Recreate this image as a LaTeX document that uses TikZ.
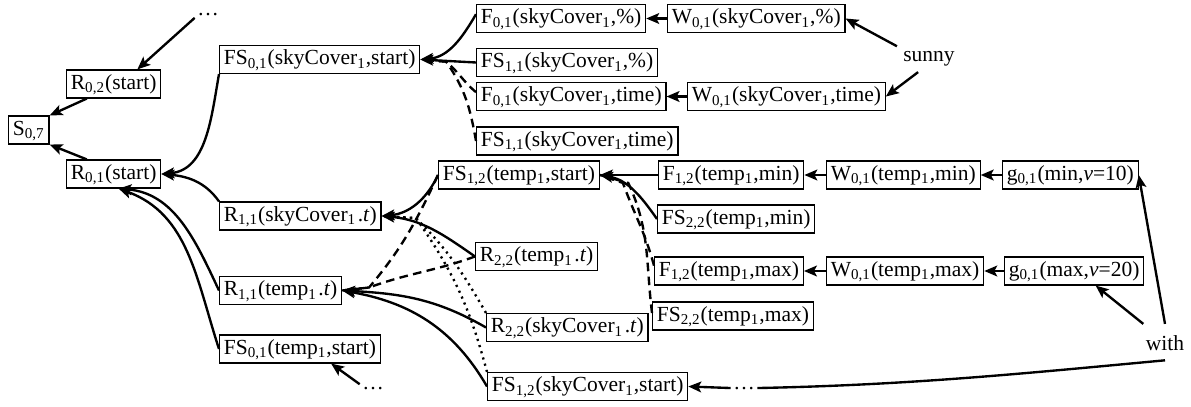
\documentclass[tikz,border=0pt]{standalone}
\usepackage{fontspec}
\setmainfont{Liberation Serif}
\usetikzlibrary{arrows.meta}
\newcommand{\sbs}[1]{\textsubscript{#1}}
\begin{document}
\begin{tikzpicture}[x=0.4651pt,y=-0.4651pt,
  box/.style={draw, line width=0.55pt, inner xsep=2pt, inner ysep=1.5pt,
    text height=7.5pt, text depth=2.5pt, anchor=west},
  lbl/.style={inner sep=1pt, anchor=base},
  ln/.style={line width=1.1pt},
  arr/.style={ln, -{Stealth[length=6pt,width=5pt,inset=1.3pt]}},
  dsh/.style={ln, dash pattern=on 4pt off 2.5pt},
  dtt/.style={ln, dash pattern=on 1pt off 2pt},
]
\useasboundingbox (0,0) rectangle (1191,407);

% nodes
\node[box] (S07) at (8,130) {S\sbs{0,7}};
\node[box] (R02) at (66,84) {R\sbs{0,2}(start)};
\node[box] (R01) at (66,174) {R\sbs{0,1}(start)};
\node[box] (FSsky) at (219,59.5) {FS\sbs{0,1}(skyCover\sbs{1},start)};
\node[box] (R11s) at (219,216) {R\sbs{1,1}(skyCover\sbs{1}\kern0.7pt.\textit{t})};
\node[box] (R11t) at (219,290.5) {R\sbs{1,1}(temp\sbs{1}\kern0.7pt.\textit{t})};
\node[box] (FSt0) at (219,349) {FS\sbs{0,1}(temp\sbs{1},start)};
\node[box] (F01p) at (476,18.5) {F\sbs{0,1}(skyCover\sbs{1},\%)};
\node[box] (W01p) at (667,18.5) {W\sbs{0,1}(skyCover\sbs{1},\%)};
\node[box] (FS11p) at (476,62.5) {FS\sbs{1,1}(skyCover\sbs{1},\%)};
\node[box] (F01ti) at (476,96.5) {F\sbs{0,1}(skyCover\sbs{1},time)};
\node[box] (W01ti) at (687,96.5) {W\sbs{0,1}(skyCover\sbs{1},time)};
\node[box] (FS11ti) at (476,141) {FS\sbs{1,1}(skyCover\sbs{1},time)};
\node[box] (FS12t) at (438,175) {FS\sbs{1,2}(temp\sbs{1},start)};
\node[box] (R22t) at (475,256.5) {R\sbs{2,2}(temp\sbs{1}\kern0.7pt.\textit{t})};
\node[box] (R22s) at (486,327.5) {R\sbs{2,2}(skyCover\sbs{1}\kern0.7pt.\textit{t})};
\node[box] (FS12s) at (487,386.5) {FS\sbs{1,2}(skyCover\sbs{1},start)};
\node[box] (F12mn) at (658,175) {F\sbs{1,2}(temp\sbs{1},min)};
\node[box] (FS22mn) at (657,219) {FS\sbs{2,2}(temp\sbs{1},min)};
\node[box] (F12mx) at (654,271) {F\sbs{1,2}(temp\sbs{1},max)};
\node[box] (FS22mx) at (652,316) {FS\sbs{2,2}(temp\sbs{1},max)};
\node[box] (W01mn) at (826,175) {W\sbs{0,1}(temp\sbs{1},min)};
\node[box] (gmn) at (1002,175) {g\sbs{0,1}(min,\textit{v}=10)};
\node[box] (W01mx) at (826,271) {W\sbs{0,1}(temp\sbs{1},max)};
\node[box] (gmx) at (1004,271) {g\sbs{0,1}(max,\textit{v}=20)};
\node[lbl] (sunny) at (929,61) {sunny};
\node[lbl] (with) at (1165,350) {with};
\node[lbl] (d1) at (208,15) {\dots};
\node[lbl] (d2) at (373,389) {\dots};
\node[lbl] (d3) at (744,389) {\dots};

% junction points
\coordinate (J1) at ([xshift=12pt,yshift=-1pt]FSsky.east);
\coordinate (J2) at ([xshift=16pt,yshift=-1pt]R11s.east);
\coordinate (J3) at ([xshift=12.5pt,yshift=1.4pt]R11t.east);
\coordinate (J4) at ([xshift=10.7pt,yshift=-3.7pt]FS12t.east);

% left part
\draw[arr] (d1.south west) -- ([xshift=11pt]R02.north);
\draw[arr] ([xshift=-12.5pt]R02.south) -- (S07.north east);
\draw[arr] ([xshift=-12.5pt]R01.north) -- (S07.south east);
\draw[arr] (FSsky.south west) to[out=-100,in=5] (R01.east);
\draw[arr] (R11s.north west) to[out=125,in=-5] (R01.east);
\draw[arr] (R11t.west) to[out=115,in=-5] ([xshift=2.3pt]R01.south);
\draw[arr] (FSt0.west) to[out=108,in=-20] ([xshift=2.3pt]R01.south);
\draw[arr] (d2.north west) -- ([xshift=14.5pt]FSt0.south);

% into FS01(skyCover,start)
\draw[arr] ([yshift=2pt]F01p.west) to[out=-120,in=5] (FSsky.east);
\draw[arr] (FS11p.west) -- (FSsky.east);
\draw[dsh] ([yshift=2pt]F01ti.west) to[out=140,in=-40] (J1) -- (FSsky.east);
\draw[dsh] (FS11ti.west) to[out=100,in=-55] (J1) -- (FSsky.east);
\draw[arr] (W01p.west) -- (F01p.east);
\draw[arr] (W01ti.west) -- (F01ti.east);
\draw[arr, shorten <=2pt] (sunny.north west) -- (W01p.east);
\draw[arr, shorten <=3pt] (sunny.-120) -- (W01ti.east);

% into R11(skyCover.t)
\draw[arr] (FS12t.west) to[out=-115,in=5] (R11s.east);
\draw[arr] (R22t.west) to[out=145,in=-5] (R11s.east);
\draw[dtt] (R22s.north west) to[out=120,in=-45] (J2) -- (R11s.east);
\draw[dtt] (FS12s.north west) to[out=105,in=-55] (J2) -- (R11s.east);

% into R11(temp.t)
\draw[dsh] (FS12t.west) to[out=-115,in=50] (J3) -- (R11t.east);
\draw[dsh] (R22t.west) to[out=200,in=20] (J3) -- (R11t.east);
\draw[arr] (R22s.west) to[out=150,in=-3] (R11t.east);
\draw[arr] (FS12s.west) to[out=120,in=-10] (R11t.east);

% into FS12(temp,start)
\draw[arr] (F12mn.west) -- (FS12t.east);
\draw[arr] (FS22mn.west) to[out=125,in=-10] (FS12t.east);
\draw[dsh] ([yshift=2.5pt]F12mx.west) to[out=105,in=-70] (J4) -- (FS12t.east);
\draw[dsh] ([yshift=1.4pt]FS22mx.west) to[out=97,in=-65] ([xshift=2.5pt]J4) -- (FS12t.east);

% right chains
\draw[arr] (W01mn.west) -- (F12mn.east);
\draw[arr] (gmn.west) -- (W01mn.east);
\draw[arr] (W01mx.west) -- (F12mx.east);
\draw[arr] (gmx.west) -- (W01mx.east);
\draw[arr] ([yshift=4pt]with.north) -- (gmn.east);
\draw[arr] ([yshift=4pt]with.north west) -- ([xshift=10pt]gmx.south);
\draw[ln] ([yshift=-3.5pt]with.south) .. controls +(-150,14) and +(150,-3) .. (d3.east);
\draw[arr] (d3.west) -- (FS12s.east);
\end{tikzpicture}
\end{document}
